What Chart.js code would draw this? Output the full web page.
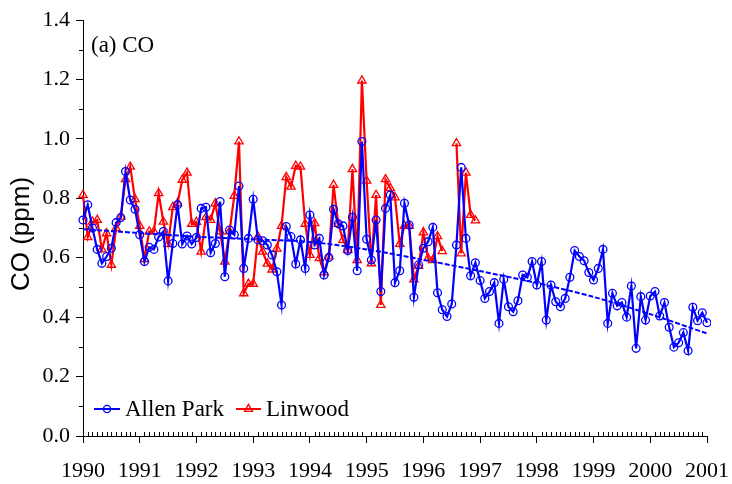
<!DOCTYPE html>
<html>
<head>
<meta charset="utf-8">
<script src="https://cdn.jsdelivr.net/npm/chart.js@4.4.1/dist/chart.umd.min.js"></script>
<style>
  html, body { margin: 0; padding: 0; background: #fff; }
  canvas { display: block; }
</style>
</head>
<body>
<canvas id="chart" width="732" height="484"></canvas>
<script>
// Monthly mean CO (ppm), first value = January 1990
const startYear = 1990;

const allenPark = [
  0.727, 0.778, 0.700, 0.628, 0.581, 0.604, 0.632, 0.718, 0.735, 0.890, 0.794, 0.763,
  0.677, 0.587, 0.635, 0.628, 0.670, 0.688, 0.522, 0.648, 0.778, 0.646, 0.673, 0.646,
  0.668, 0.766, 0.770, 0.617, 0.648, 0.789, 0.536, 0.693, 0.677, 0.841, 0.564, 0.665,
  0.797, 0.660, 0.657, 0.643, 0.609, 0.553, 0.441, 0.705, 0.671, 0.579, 0.660, 0.564,
  0.744, 0.643, 0.665, 0.542, 0.601, 0.763, 0.714, 0.707, 0.624, 0.736, 0.556, 0.991,
  0.662, 0.592, 0.727, 0.486, 0.766, 0.811, 0.516, 0.556, 0.783, 0.710, 0.467, 0.576,
  0.632, 0.654, 0.702, 0.482, 0.425, 0.402, 0.444, 0.643, 0.904, 0.665, 0.539, 0.583,
  0.523, 0.463, 0.486, 0.516, 0.379, 0.527, 0.435, 0.418, 0.455, 0.542, 0.534, 0.587,
  0.508, 0.587, 0.390, 0.508, 0.452, 0.435, 0.463, 0.534, 0.624, 0.604, 0.590, 0.550,
  0.525, 0.564, 0.628, 0.379, 0.480, 0.438, 0.449, 0.400, 0.505, 0.295, 0.469, 0.390,
  0.471, 0.486, 0.404, 0.449, 0.366, 0.299, 0.314, 0.348, 0.287, 0.433, 0.388, 0.415,
  0.381, 0.290
];

const linwood = [
  0.811, 0.669, 0.721, 0.727, 0.628, 0.682, 0.576, 0.699, 0.738, 0.864, 0.906, 0.797,
  0.707, 0.595, 0.688, 0.688, 0.817, 0.721, 0.646, 0.770, 0.783, 0.862, 0.886, 0.714,
  0.720, 0.620, 0.736, 0.727, 0.783, 0.688, 0.587, 0.688, 0.808, 0.991, 0.480, 0.512,
  0.512, 0.671, 0.620, 0.580, 0.560, 0.630, 0.707, 0.871, 0.839, 0.909, 0.906, 0.714,
  0.609, 0.716, 0.598, 0.550, 0.604, 0.845, 0.714, 0.660, 0.626, 0.898, 0.592, 1.196,
  0.859, 0.581, 0.811, 0.441, 0.864, 0.834, 0.803, 0.646, 0.707, 0.707, 0.527, 0.572,
  0.685, 0.598, 0.592, 0.672, 0.622, null,  null,  0.985, 0.614, 0.886, 0.744, 0.725
];

// Smoothed long-term trend of the Allen Park record
const trendYears  = [1990, 1991, 1992, 1993, 1994, 1995, 1996, 1997, 1998, 1999, 2000, 2001];
const trendValues = [0.696, 0.683, 0.671, 0.662, 0.653, 0.628, 0.593, 0.555, 0.515, 0.468, 0.410, 0.345];

const yMin = 0, yMax = 1.4, yStep = 0.2;
const xMin = 1990, xMax = 2001;

const BLUE = '#0000ff';
const RED = '#ff0000';
const SERIF = '"Liberation Serif", "Times New Roman", serif';
const SANS = '"Liberation Sans", Arial, sans-serif';

const monthly = vals => vals.map((v, i) => ({ x: startYear + i / 12, y: v }));
const trendPoints = trendYears.map((yr, i) => ({ x: yr, y: trendValues[i] }));

// markers are only drawn inside the axis range
const markerRadius = r => ctx => (ctx.parsed && ctx.parsed.x > xMax + 1e-6 ? 0 : r);

// Axis title, panel label, minor ticks and an in-plot legend
const decorations = {
  id: 'decorations',
  afterDraw(chart) {
    const { ctx, chartArea: a, scales: { x, y } } = chart;
    ctx.save();
    ctx.strokeStyle = '#000';
    ctx.lineWidth = 1;
    ctx.beginPath();
    // monthly minor ticks, pointing into the plot
    for (let yr = xMin; yr < xMax; yr++) {
      for (let m = 1; m < 12; m++) {
        const px = Math.round(x.getPixelForValue(yr + m / 12)) + 0.5;
        ctx.moveTo(px, a.bottom);
        ctx.lineTo(px, a.bottom - 4);
      }
    }
    // minor ticks between labelled values on the y axis
    for (let k = 0; k < (yMax - yMin) / yStep; k++) {
      const py = Math.round(y.getPixelForValue(yMin + yStep * k + yStep / 2)) + 0.5;
      ctx.moveTo(a.left, py);
      ctx.lineTo(a.left - 4, py);
    }
    ctx.stroke();

    // y axis title
    ctx.fillStyle = '#000';
    ctx.font = '26px ' + SANS;
    ctx.textAlign = 'center';
    ctx.textBaseline = 'middle';
    ctx.save();
    ctx.translate(22, 234);
    ctx.rotate(-Math.PI / 2);
    ctx.fillText('CO (ppm)', 0, 0);
    ctx.restore();

    // panel label
    ctx.font = '23px ' + SERIF;
    ctx.textAlign = 'left';
    ctx.textBaseline = 'alphabetic';
    ctx.fillText('(a) CO', 91, 52);

    // legend
    const legendY = 409;
    const items = [
      { ds: chart.data.datasets[0], x0: 94, x1: 120, tx: 125 },
      { ds: chart.data.datasets[1], x0: 236, x1: 261, tx: 266 }
    ];
    items.forEach(it => {
      ctx.strokeStyle = it.ds.borderColor;
      ctx.lineWidth = 2;
      ctx.beginPath();
      ctx.moveTo(it.x0, legendY);
      ctx.lineTo(it.x1, legendY);
      ctx.stroke();
      ctx.lineWidth = it.ds.pointBorderWidth;
      ctx.fillStyle = 'rgba(0,0,0,0)';
      Chart.helpers.drawPoint(ctx, {
        pointStyle: it.ds.pointStyle,
        radius: it.ds.legendRadius,
        borderWidth: it.ds.pointBorderWidth,
        rotation: 0
      }, (it.x0 + it.x1) / 2, legendY);
      ctx.fillStyle = '#000';
      ctx.font = '23px ' + SERIF;
      ctx.textBaseline = 'middle';
      ctx.fillText(it.ds.label, it.tx, legendY + 1);
    });
    ctx.restore();
  }
};

const axisStyle = {
  grid: { drawOnChartArea: false, drawTicks: true, tickLength: 7, color: '#000', tickColor: '#000', tickWidth: 1 },
  border: { display: true, color: '#000', width: 1 }
};

new Chart(document.getElementById('chart'), {
  type: 'line',
  data: {
    datasets: [
      {
        label: 'Allen Park',
        data: monthly(allenPark),
        borderColor: BLUE,
        backgroundColor: 'rgba(0,0,0,0)',
        borderWidth: 2.2,
        pointStyle: 'circle',
        pointRadius: markerRadius(3.9),
        legendRadius: 3.6,
        pointBorderWidth: 1.3,
        pointBorderColor: BLUE,
        pointBackgroundColor: 'rgba(0,0,0,0)',
        tension: 0,
        clip: { left: 6, top: 6, right: 4, bottom: 6 },
        order: 1
      },
      {
        label: 'Linwood',
        data: monthly(linwood),
        borderColor: RED,
        backgroundColor: 'rgba(0,0,0,0)',
        borderWidth: 2.2,
        pointStyle: 'triangle',
        pointRadius: markerRadius(4.8),
        legendRadius: 4.6,
        pointBorderWidth: 1.3,
        pointBorderColor: RED,
        pointBackgroundColor: 'rgba(0,0,0,0)',
        spanGaps: false,
        tension: 0,
        clip: { left: 6, top: 6, right: 4, bottom: 6 },
        order: 2
      },
      {
        label: 'Trend',
        data: trendPoints,
        borderColor: BLUE,
        borderWidth: 2,
        borderDash: [5, 2],
        pointRadius: 0,
        tension: 0.3,
        order: 0
      }
    ]
  },
  options: {
    responsive: false,
    animation: false,
    devicePixelRatio: 1,
    layout: { autoPadding: false, padding: { top: 20, right: 25, left: 0, bottom: 0 } },
    plugins: { legend: { display: false }, tooltip: { enabled: false } },
    scales: {
      x: {
        type: 'linear',
        min: xMin,
        max: xMax,
        ...axisStyle,
        ticks: {
          stepSize: 1,
          autoSkip: false,
          maxRotation: 0,
          color: '#000',
          padding: 15,
          font: { family: SERIF, size: 22 },
          callback: v => String(v)
        },
        afterFit: s => { s.height = 48; s.paddingLeft = 0; s.paddingRight = 0; }
      },
      y: {
        min: yMin,
        max: yMax,
        ...axisStyle,
        ticks: {
          stepSize: yStep,
          color: '#000',
          padding: 6,
          font: { family: SERIF, size: 22 },
          callback: v => v.toFixed(1)
        },
        afterFit: s => { s.width = 83; s.paddingTop = 0; s.paddingBottom = 0; }
      }
    }
  },
  plugins: [decorations]
});
</script>
</body>
</html>
